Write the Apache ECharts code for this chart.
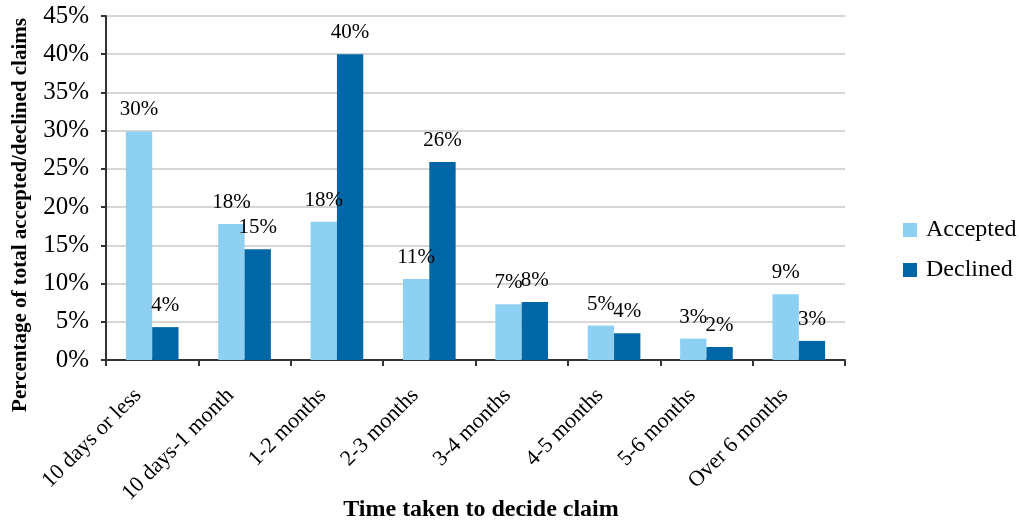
<!DOCTYPE html>
<html>
<head>
<meta charset="utf-8">
<script src="https://cdn.jsdelivr.net/npm/echarts@6/dist/echarts.min.js"></script>
<style>
  html, body { margin: 0; padding: 0; background: #ffffff; }
  #chart { width: 1019px; height: 522px; }
</style>
</head>
<body>
<div id="chart"></div>
<script>
// Time taken to decide a claim, share of accepted vs declined claims (%)
const categories = ['10 days or less', '10 days-1 month', '1-2 months', '2-3 months',
                    '3-4 months', '4-5 months', '5-6 months', 'Over 6 months'];
const accepted = [29.9, 17.8, 18.1, 10.6, 7.3, 4.5, 2.8, 8.6];
const declined = [4.3, 14.5, 40.0, 25.9, 7.6, 3.5, 1.7, 2.5];
const yTicks = [0, 5, 10, 15, 20, 25, 30, 35, 40, 45];

const FONT = '"Liberation Serif", "Times New Roman", serif';

const chart = echarts.init(document.getElementById('chart'), null, { renderer: 'canvas' });

const labelOpt = {
  show: true,
  position: 'top',
  distance: 11,
  fontFamily: FONT,
  fontSize: 21,
  color: '#000',
  formatter: p => Math.round(p.value) + '%'
};

chart.setOption({
  animation: false,
  backgroundColor: '#ffffff',
  textStyle: { fontFamily: FONT, color: '#000' },
  grid: { left: 106, right: 174, top: 16, bottom: 162, containLabel: false, outerBoundsMode: 'none' },
  legend: {
    orient: 'vertical',
    left: 903,
    top: 217,
    padding: 0,
    itemWidth: 14,
    itemHeight: 14,
    itemGap: 14,
    icon: 'rect',
    textStyle: { fontFamily: FONT, fontSize: 24, color: '#000', lineHeight: 26, padding: [0, 0, 0, 4] },
    data: ['Accepted', 'Declined']
  },
  // axis titles, drawn on their own so their placement does not depend on the rotated labels
  graphic: [
    {
      type: 'text',
      x: 21,
      y: 215,
      rotation: Math.PI / 2,
      style: {
        text: 'Percentage of total accepted/declined claims',
        font: 'bold 21px ' + FONT,
        fill: '#000',
        align: 'center',
        verticalAlign: 'middle'
      }
    },
    {
      type: 'text',
      x: 481,
      y: 510,
      style: {
        text: 'Time taken to decide claim',
        font: 'bold 24px ' + FONT,
        fill: '#000',
        align: 'center',
        verticalAlign: 'middle'
      }
    }
  ],
  xAxis: {
    type: 'category',
    data: categories,
    axisLine: { lineStyle: { color: '#333', width: 2 } },
    axisTick: { show: true, length: 6, lineStyle: { color: '#333', width: 2 } },
    axisLabel: { rotate: 45, margin: 18, padding: [0, 20, 0, 0], fontFamily: FONT, fontSize: 22, color: '#000' }
  },
  yAxis: {
    type: 'value',
    min: yTicks[0],
    max: yTicks[yTicks.length - 1],
    interval: 5,
    axisLine: { show: true, lineStyle: { color: '#333', width: 2 } },
    axisTick: { show: true, length: 5, lineStyle: { color: '#333', width: 2 } },
    axisLabel: { margin: 17, fontFamily: FONT, fontSize: 25, color: '#000', formatter: v => v + '%' },
    splitLine: { show: true, lineStyle: { color: '#c8c8c8', width: 1.5 } }
  },
  series: [
    {
      name: 'Accepted',
      type: 'bar',
      data: accepted,
      barGap: '0%',
      barCategoryGap: '43%',
      itemStyle: { color: '#8dd0f2' },
      label: labelOpt
    },
    {
      name: 'Declined',
      type: 'bar',
      data: declined,
      itemStyle: { color: '#0067a7' },
      label: labelOpt
    }
  ]
});
</script>
</body>
</html>
